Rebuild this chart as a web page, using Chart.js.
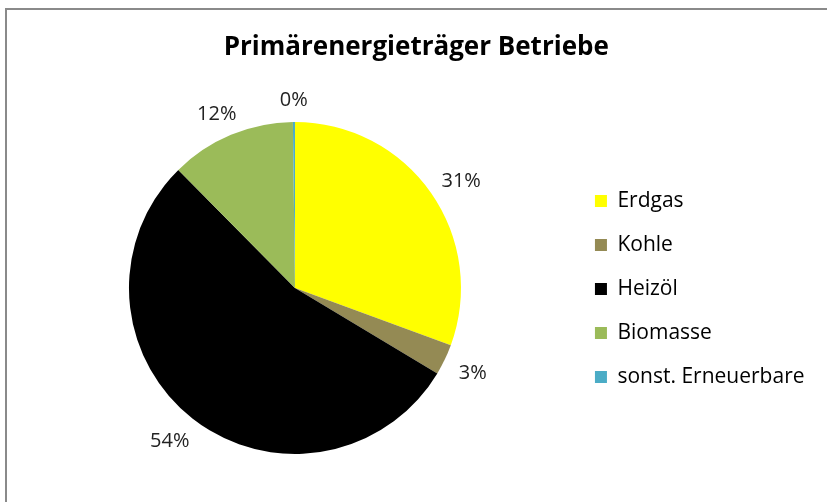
<!DOCTYPE html>
<html>
<head>
<meta charset="utf-8">
<script src="https://cdn.jsdelivr.net/npm/chart.js@4"></script>
<style>
    body { margin: 0; background: #fff; overflow: hidden; }
    #wrap { position: relative; width: 827px; height: 502px; }
    #frame {
        position: absolute; left: 5px; top: 8px; width: 900px; height: 600px;
        border: 2px solid #8a8a8a; box-sizing: border-box;
    }
    canvas { position: absolute; left: 0; top: 0; }
</style>
</head>
<body>
<div id="wrap">
    <div id="frame"></div>
    <canvas id="pieChart" width="827" height="502"></canvas>
</div>
<script>
// Energy carriers and their shares (percent)
const carriers = ['Erdgas', 'Kohle', 'Heizöl', 'Biomasse', 'sonst. Erneuerbare'];
const shares = [30.6, 3.0, 54.0, 12.2, 0.2];
const sliceColors = ['#FFFF00', '#948A54', '#000000', '#9BBB59', '#4BACC6'];

const FONT = "'Open Sans', sans-serif";

// draws the percentage labels just outside each slice
const outsideLabels = {
    id: 'outsideLabels',
    afterDatasetsDraw(chart) {
        const ctx = chart.ctx;
        const meta = chart.getDatasetMeta(0);
        const data = chart.data.datasets[0].data;
        const total = data.reduce((a, b) => a + b, 0);
        ctx.save();
        ctx.font = '20px ' + FONT;
        ctx.fillStyle = '#222';
        ctx.textAlign = 'center';
        ctx.textBaseline = 'middle';
        meta.data.forEach((arc, i) => {
            const p = arc.getProps(['x', 'y', 'startAngle', 'endAngle', 'outerRadius'], true);
            const mid = (p.startAngle + p.endAngle) / 2;
            const ux = Math.cos(mid), uy = Math.sin(mid);
            const text = Math.round(data[i] / total * 100) + '%';
            const w = ctx.measureText(text).width;
            const h = 16;
            const gap = 17;
            const tx = p.x + ux * (p.outerRadius + gap) + ux * w / 2;
            const ty = p.y + uy * (p.outerRadius + gap) + uy * h / 2 + 3;
            ctx.fillText(text, tx, ty);
        });
        ctx.restore();
    }
};

const ctx = document.getElementById('pieChart').getContext('2d');
new Chart(ctx, {
    type: 'pie',
    data: {
        labels: carriers,
        datasets: [{
            data: shares,
            backgroundColor: sliceColors,
            borderWidth: 0
        }]
    },
    options: {
        responsive: false,
        animation: false,
        layout: { padding: { left: 18, right: 12.5, top: 0, bottom: 48 } },
        plugins: {
            title: {
                display: true,
                text: 'Primärenergieträger Betriebe',
                color: '#000',
                font: { family: FONT, size: 26, weight: 'bold' },
                padding: { top: 32.4, bottom: 58.4 }
            },
            legend: {
                position: 'right',
                title: {
                    // empty title only pushes the items down to the pie's centre
                    display: true,
                    text: ' ',
                    font: { size: 12 },
                    padding: { top: 109.6, bottom: 0 }
                },
                labels: {
                    color: '#000',
                    font: { family: FONT, size: 21 },
                    boxWidth: 12,
                    boxHeight: 12,
                    padding: 23
                }
            },
            tooltip: { enabled: false }
        }
    },
    plugins: [outsideLabels]
});
</script>
</body>
</html>
